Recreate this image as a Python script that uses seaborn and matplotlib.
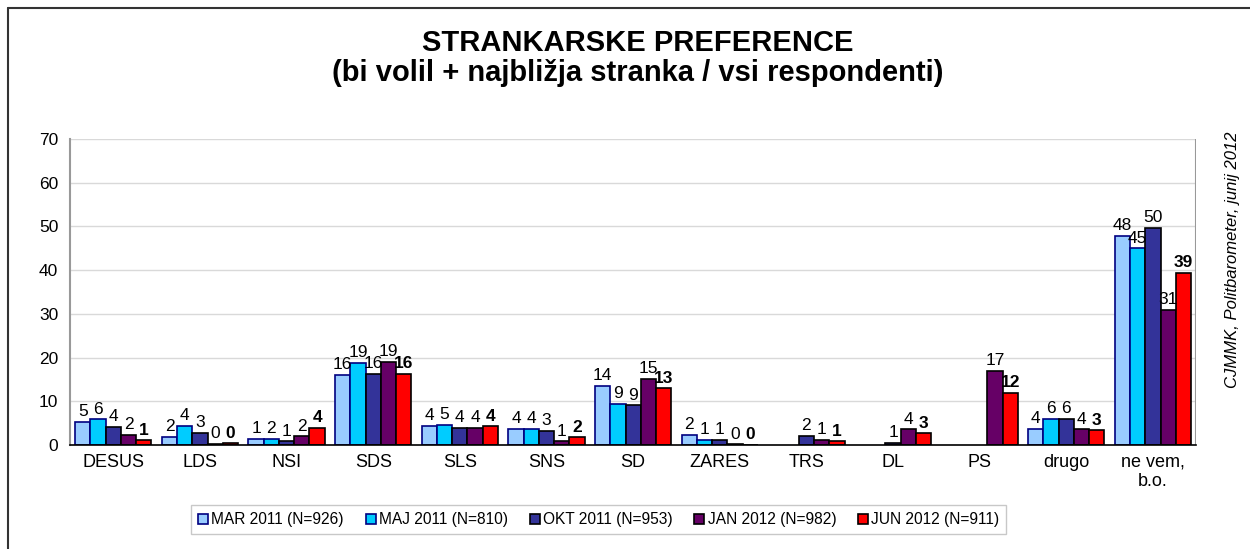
import numpy as np
import pandas as pd
import matplotlib
matplotlib.use("Agg")
import matplotlib.pyplot as plt
from matplotlib.lines import Line2D
import seaborn as sns

# stranke / kategorije
categories = ["DESUS", "LDS", "NSI", "SDS", "SLS", "SNS", "SD", "ZARES",
              "TRS", "DL", "PS", "drugo", "ne vem,\nb.o."]

# vrednosti po valovih (v %)
mar_2011 = [5.4, 1.9, 1.4, 16.0, 4.4, 3.7, 13.6, 2.4, np.nan, np.nan, np.nan, 3.7, 47.8]
maj_2011 = [5.9, 4.4, 1.5, 18.8, 4.6, 3.7, 9.4, 1.3, np.nan, np.nan, np.nan, 6.1, 45.0]
okt_2011 = [4.2, 2.8, 0.9, 16.3, 4.0, 3.2, 9.1, 1.3, 2.1, 0.6, np.nan, 6.0, 49.6]
jan_2012 = [2.3, 0.3, 2.0, 19.0, 3.9, 0.9, 15.1, 0.2, 1.3, 3.6, 17.0, 3.6, 31.0]
jun_2012 = [1.1, 0.4, 4.0, 16.3, 4.3, 1.8, 13.0, 0.1, 0.9, 2.7, 12.0, 3.4, 39.3]

series_names = ["MAR 2011 (N=926)", "MAJ 2011 (N=810)", "OKT 2011 (N=953)",
                "JAN 2012 (N=982)", "JUN 2012 (N=911)"]
series_values = [mar_2011, maj_2011, okt_2011, jan_2012, jun_2012]
colors = ["#99CCFF", "#00CCFF", "#333399", "#660066", "#FF0000"]
edges = ["#000080", "#000080", "#000000", "#000000", "#000000"]

rows = []
for name, vals in zip(series_names, series_values):
    for cat, v in zip(categories, vals):
        rows.append({"stranka": cat, "val": name, "odstotek": v})
df = pd.DataFrame(rows)

sns.set_style("white")
plt.rcParams["font.family"] = ["Liberation Sans", "DejaVu Sans"]
plt.rcParams["text.color"] = "black"
plt.rcParams["xtick.color"] = "black"
plt.rcParams["ytick.color"] = "black"

fig = plt.figure(figsize=(12.5, 5.49), dpi=100)
ax = fig.add_axes([0.056, 0.189, 0.901, 0.558])

sns.barplot(data=df, x="stranka", y="odstotek", hue="val", order=categories,
            hue_order=series_names, palette=colors, width=0.88, saturation=1,
            errorbar=None, ax=ax, legend=True)

for i, cont in enumerate(ax.containers):
    for bar in cont:
        bar.set_edgecolor(edges[i])
        bar.set_linewidth(1.2)
    weight = "bold" if i == 4 else "normal"
    ax.bar_label(cont, fmt="%.0f", padding=2, fontsize=12.5, fontweight=weight)

ax.set_ylim(0, 70)
ax.set_xlim(-0.5, len(categories) - 0.5)
ax.set_yticks(range(0, 71, 10))
ax.yaxis.grid(True, color="#d9d9d9", linewidth=1)
ax.set_axisbelow(True)
ax.set_xlabel("")
ax.set_ylabel("")

ax.set_xticks(np.arange(len(categories)))
ax.set_xticklabels(categories, fontsize=13)
ax.set_xticks(np.arange(-0.5, len(categories)), minor=True)
ax.tick_params(axis="x", which="major", length=0, pad=6)
ax.tick_params(axis="x", which="minor", length=5, direction="out", color="black")
ax.tick_params(axis="y", length=5, direction="out", color="#888888", labelsize=12.5)

for s in ["top", "right"]:
    ax.spines[s].set_visible(False)
ax.spines["left"].set_color("#999999")
ax.spines["left"].set_linewidth(1.5)
ax.spines["bottom"].set_color("black")
ax.spines["bottom"].set_linewidth(1.2)

# desna meja grafa
ax.axvline(len(categories) - 0.5, color="#999999", linewidth=1.5)

leg = ax.legend(loc="center", bbox_to_anchor=(0.479, 0.053),
                bbox_transform=fig.transFigure, ncol=5, fontsize=11.2,
                frameon=True, fancybox=False, handlelength=0.65,
                handleheight=0.65, handletextpad=0.2, columnspacing=1.4,
                borderpad=0.45)
leg.get_frame().set_edgecolor("#bbbbbb")
for h, e in zip(leg.legend_handles, edges):
    h.set_edgecolor(e)
    h.set_linewidth(1.2)

fig.text(0.51, 0.894, "STRANKARSKE PREFERENCE\n(bi volil + najbližja stranka / vsi respondenti)",
         ha="center", va="center", fontsize=21, fontweight="bold", linespacing=1.1)

fig.text(0.986, 0.526, "CJMMK, Politbarometer, junij 2012", rotation=90,
         ha="center", va="center", fontsize=12, style="italic")

# okvir slike
fig.add_artist(Line2D([8 / 1250, 8 / 1250], [0, 1 - 8 / 549], color="#333333",
                      linewidth=1.5, transform=fig.transFigure))
fig.add_artist(Line2D([8 / 1250, 1], [1 - 8 / 549, 1 - 8 / 549], color="#333333",
                      linewidth=1.5, transform=fig.transFigure))

fig.savefig("out.png", dpi=100)
